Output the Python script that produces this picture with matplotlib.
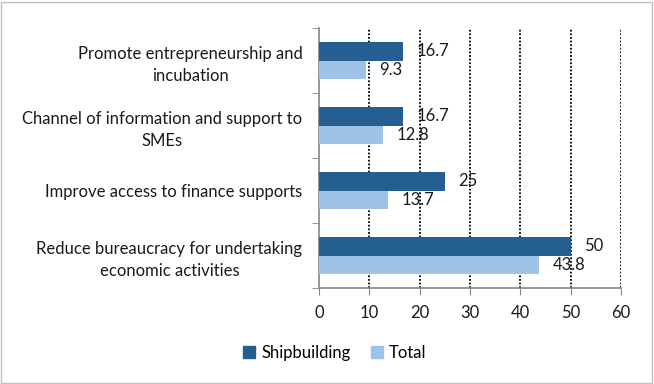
import matplotlib.pyplot as plt
import matplotlib.patches as mpatches
import numpy as np

plt.rcParams['font.family'] = ['Lato', 'DejaVu Sans']

categories = [
    "Promote entrepreneurship and\nincubation",
    "Channel of information and support to\nSMEs",
    "Improve access to finance supports",
    "Reduce bureaucracy for undertaking\neconomic activities",
]
shipbuilding = [16.7, 16.7, 25, 50]
total = [9.3, 12.8, 13.7, 43.8]
x_ticks = [0, 10, 20, 30, 40, 50, 60]

dark = "#255e91"
light = "#9dc3e6"
fs = 12

fig = plt.figure(figsize=(6.54, 3.84), dpi=100)
ax = fig.add_axes([0.4878, 0.25, 0.9495 - 0.4878, 0.927 - 0.25])

y = np.arange(len(categories))[::-1].astype(float)
h = 0.285
bars_s = ax.barh(y + h / 2, shipbuilding, height=h, color=dark, label="Shipbuilding", zorder=3)
bars_t = ax.barh(y - h / 2, total, height=h, color=light, label="Total", zorder=3)

for bars, vals in ((bars_s, shipbuilding), (bars_t, total)):
    for b, v in zip(bars, vals):
        ax.annotate(f"{v:g}", (v, b.get_y() + b.get_height() / 2),
                    xytext=(9.5, 0), textcoords="offset points",
                    ha="left", va="center", fontsize=fs, color="#1a1a1a", zorder=4)

ax.set_xlim(0, 60)
ax.set_ylim(-0.5, 3.5)
ax.set_xticks(x_ticks)
ax.set_xticklabels([str(t) for t in x_ticks], fontsize=fs, color="#1a1a1a")
ax.set_yticks(y)
ax.set_yticklabels(categories, fontsize=fs, color="#1a1a1a",
                   multialignment="center", linespacing=1.45)
ax.set_yticks(np.arange(-0.5, 4, 1), minor=True)
ax.tick_params(axis="y", which="major", length=0, pad=12)
ax.tick_params(axis="y", which="minor", length=5, direction="out", color="#868686")
ax.tick_params(axis="x", length=5, direction="out", color="#868686", pad=7)

for xv in x_ticks[1:]:
    ax.axvline(xv, color="black", linestyle=(0, (1, 1)), linewidth=1.3, zorder=1)

for side in ("top", "right"):
    ax.spines[side].set_visible(False)
for side in ("left", "bottom"):
    ax.spines[side].set_color("#868686")
    ax.spines[side].set_linewidth(1.2)

fig.legend(handles=[mpatches.Patch(color=dark, label="Shipbuilding"),
                    mpatches.Patch(color=light, label="Total")],
           loc="center", bbox_to_anchor=(335 / 654, 1 - 353 / 384), ncol=2,
           frameon=False, fontsize=fs, handlelength=0.7, handleheight=0.7,
           handletextpad=0.4, columnspacing=1.2)

fig.patches.append(mpatches.Rectangle((0.002, 0.003), 0.995, 0.993, transform=fig.transFigure,
                                      fill=False, edgecolor="#bfbfbf", linewidth=1))

fig.savefig("out.png", dpi=100)
